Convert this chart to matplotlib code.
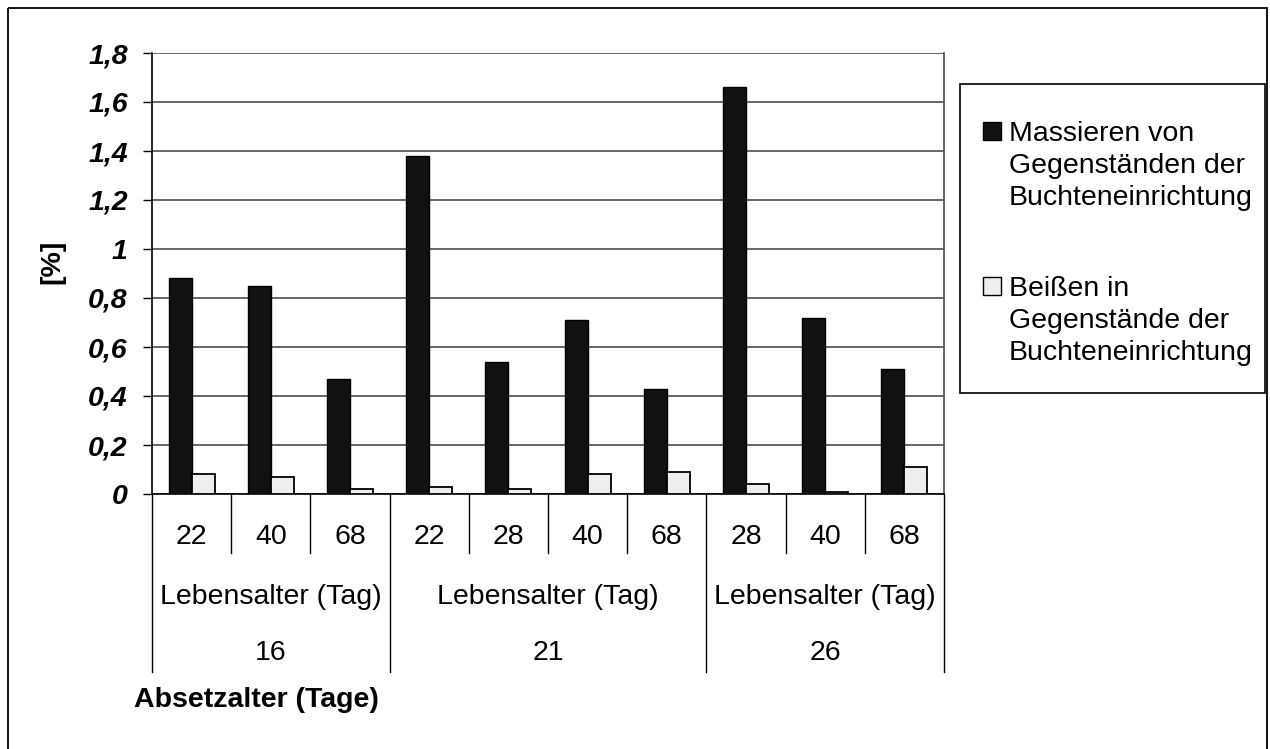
import matplotlib
matplotlib.use("Agg")
import matplotlib.pyplot as plt
import matplotlib.transforms as mtransforms
from matplotlib.patches import Rectangle
import numpy as np

plt.rcParams["font.family"] = ["Liberation Sans", "DejaVu Sans"]

# Data
lebensalter = ["22", "40", "68", "22", "28", "40", "68", "28", "40", "68"]
absetzalter = ["16", "21", "26"]
group_sizes = [3, 4, 3]
level2_label = "Lebensalter (Tag)"
massieren = [0.88, 0.85, 0.47, 1.38, 0.54, 0.71, 0.43, 1.66, 0.72, 0.51]
beissen = [0.08, 0.07, 0.02, 0.03, 0.02, 0.08, 0.09, 0.04, 0.01, 0.11]
series_labels = [
    ["Massieren von", "Gegenständen der", "Buchteneinrichtung"],
    ["Beißen in", "Gegenstände der", "Buchteneinrichtung"],
]
y_ticks = [0, 0.2, 0.4, 0.6, 0.8, 1.0, 1.2, 1.4, 1.6, 1.8]
y_label = "[%]"
x_label = "Absetzalter (Tage)"

W, H = 1270, 749
FS = 20.5
dark_color = "#111111"
light_color = "#eeeeee"
grid_color = "#5a5a5a"

fig = plt.figure(figsize=(W / 100, H / 100), dpi=100)
# pixel coordinates measured from the top-left corner of the figure
px = mtransforms.Affine2D().scale(1 / W, -1 / H).translate(0, 1) + fig.transFigure

ax_left, ax_right, ax_top, ax_bottom = 152, 944, 53, 494
ax = fig.add_axes([ax_left / W, 1 - ax_bottom / H,
                   (ax_right - ax_left) / W, (ax_bottom - ax_top) / H])

x = np.arange(len(lebensalter))
bw = 0.29
ax.bar(x - bw / 2, massieren, bw, color=dark_color, edgecolor="black",
       linewidth=1.0, zorder=3)
ax.bar(x + bw / 2, beissen, bw, color=light_color, edgecolor="black",
       linewidth=1.3, zorder=3)

ax.set_xlim(-0.5, len(lebensalter) - 0.5)
ax.set_ylim(0, 1.8)
ax.set_yticks(y_ticks)
ax.set_yticklabels([f"{v:g}".replace(".", ",") for v in y_ticks],
                   fontsize=FS, fontweight="bold", fontstyle="italic")
ax.tick_params(axis="y", direction="out", length=6.5, width=1.0,
               pad=11, color="black")
ax.set_xticks([])
ax.yaxis.grid(True, color=grid_color, linewidth=1.3, zorder=0)
ax.set_axisbelow(True)
ax.spines["top"].set_visible(False)
ax.spines["right"].set_color(grid_color)
ax.spines["right"].set_linewidth(1.3)
ax.spines["left"].set_linewidth(1.2)
ax.spines["bottom"].set_linewidth(1.2)

# Multi-level category table below the axis
blend = mtransforms.blended_transform_factory(ax.transData, px)
line_kw = dict(transform=blend, clip_on=False, color="black", linewidth=1.0)
bounds = np.cumsum([0] + group_sizes) - 0.5
for i, lab in enumerate(lebensalter):
    ax.text(i, 537, lab, transform=blend, ha="center", va="center",
            fontsize=FS)
for g, (start, end) in enumerate(zip(bounds[:-1], bounds[1:])):
    for b in np.arange(start + 1, end):
        ax.plot([b, b], [ax_bottom, 553], **line_kw)
    mid = (start + end) / 2
    ax.text(mid, 597, level2_label, transform=blend, ha="center",
            va="center", fontsize=FS)
    ax.text(mid, 653, absetzalter[g], transform=blend, ha="center",
            va="center", fontsize=FS)
for b in bounds:
    ax.plot([b, b], [ax_bottom, 672], **line_kw)

# Axis titles
fig.text(52, 262, y_label, transform=px, rotation=90, ha="center",
         va="center", fontsize=FS, fontweight="bold")
fig.text(256, 700, x_label, transform=px, ha="center", va="center",
         fontsize=FS, fontweight="bold")

# Legend
fig.add_artist(Rectangle((960, 84), 305, 309, transform=px, fill=False,
                         edgecolor="black", linewidth=1.2))
legend_rows = [(122, dark_color, series_labels[0]),
               (277, light_color, series_labels[1])]
for top, color, lines in legend_rows:
    fig.add_artist(Rectangle((983, top), 18, 18, transform=px,
                             facecolor=color, edgecolor="black",
                             linewidth=1.0))
    for k, line in enumerate(lines):
        fig.text(1009, top + 19 + 32 * k, line, transform=px, ha="left",
                 va="baseline", fontsize=FS)

# Chart border
fig.add_artist(Rectangle((8, 8), 1259, 760, transform=px, fill=False,
                         edgecolor="black", linewidth=1.3, clip_on=False))

fig.savefig("out.png", dpi=100)
